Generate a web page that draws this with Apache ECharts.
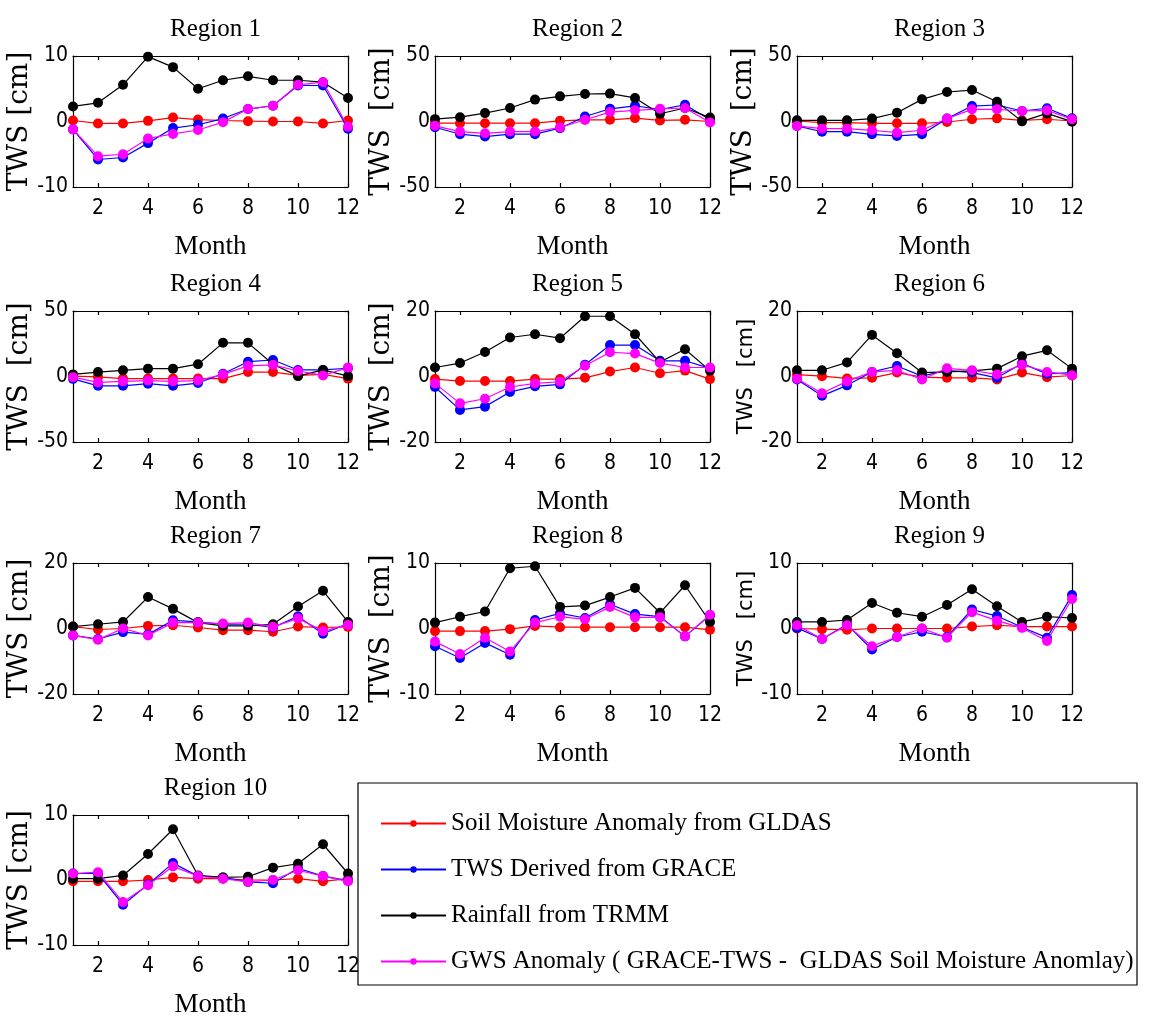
<!DOCTYPE html>
<html>
<head>
<meta charset="utf-8">
<title>Monthly TWS, soil moisture, rainfall and GWS by region</title>
<script src="https://cdn.jsdelivr.net/npm/echarts@6/dist/echarts.min.js"></script>
<style>
  html, body { margin: 0; padding: 0; background: #ffffff; }
  #chart { width: 1150px; height: 1019px; }
</style>
</head>
<body>
<div id="chart"></div>
<script>
// ---- data ---------------------------------------------------------------
const months = [1, 2, 3, 4, 5, 6, 7, 8, 9, 10, 11, 12];
const monthTicks = [2, 4, 6, 8, 10, 12];

const regionNames = ['Region 1', 'Region 2', 'Region 3', 'Region 4', 'Region 5',
                     'Region 6', 'Region 7', 'Region 8', 'Region 9', 'Region 10'];

// symmetric y-limits (cm) for each region panel
const yLimits = [10, 50, 50, 50, 20, 20, 20, 10, 10, 10];

const yAxisNames = ['TWS [cm]', 'TWS  [cm]', 'TWS  [cm]', 'TWS  [cm]', 'TWS  [cm]',
                    'TWS   [cm]', 'TWS [cm]', 'TWS  [cm]', 'TWS   [cm]', 'TWS [cm]'];
const sansNamePanels = [5, 8];

const seriesNames = [
  'Soil Moisture Anomaly from GLDAS',
  'TWS Derived from GRACE',
  'Rainfall from TRMM',
  'GWS Anomaly ( GRACE-TWS -  GLDAS Soil Moisture Anomlay)'
];
const seriesColors = ['#ff0000', '#0000ff', '#000000', '#ff00ff'];

// one row per region, one value per month
const soilMoisture = [
  [0.15, -0.3, -0.3, 0.1, 0.6, 0.3, 0.15, 0.05, 0, 0, -0.3, 0.15],
  [-1.3, -1.3, -1.3, -1.3, -1.3, 0.5, 1.3, 1.3, 2.6, 0.8, 1.3, 0],
  [0.4, -0.9, -0.9, -1.4, -1.4, -1.4, -0.4, 1.7, 2.4, 0.9, 1.7, 0.4],
  [0.3, -0.3, -1.6, -1.6, -1.6, -1.6, -1.6, 3.4, 3.4, 0.8, 1.6, -1.6],
  [-0.8, -1.4, -1.4, -1.4, -0.8, -0.8, -0.4, 1.5, 2.75, 1.0, 1.8, -0.8],
  [0.6, 0.1, -0.6, -0.4, 1.2, -0.2, -0.4, -0.4, -0.9, 1.2, -0.2, 0.3],
  [0.6, -0.3, 0, 0.8, 1.0, 0.3, -0.5, -0.5, -1.0, 0.6, 0.3, 0.5],
  [-0.4, -0.4, -0.4, -0.1, 0.4, 0.2, 0.2, 0.2, 0.2, 0.2, 0.2, -0.2],
  [0, -0.1, -0.2, 0, 0, 0, 0, 0.3, 0.5, 0.3, 0.3, 0.3],
  [-0.2, -0.2, -0.2, 0, 0.4, 0.2, 0.2, 0, 0, 0.2, -0.2, 0.2]
];

const graceTws = [
  [-1.2, -5.8, -5.5, -3.3, -1.0, -0.5, 0.45, 1.9, 2.4, 5.5, 5.5, -1.1],
  [-4.4, -9.7, -11.5, -9.7, -9.7, -5.1, 3.8, 9.7, 12, 9, 12.8, 1.3],
  [-3.4, -7.8, -7.8, -9.8, -11, -9.8, 2.2, 11.8, 12.6, 8, 10.1, 2.4],
  [-1.8, -7.1, -7.1, -5.5, -7.1, -5, 2.1, 11.3, 12.6, 5, 5, 6.3],
  [-3.2, -10.2, -9.2, -4.7, -3.0, -2.4, 3.6, 9.6, 9.6, 4.8, 4.8, 2.5],
  [-0.9, -5.9, -2.7, 1.4, 3.2, 0.1, 1.9, 1.2, -0.4, 4.0, 0.8, 1.2],
  [-2.1, -3.2, -1.1, -1.8, 2.5, 2.0, 1.3, 1.3, 0.3, 3.7, -1.6, 1.5],
  [-2.7, -4.5, -2.2, -4.0, 1.3, 2.3, 1.6, 3.7, 2.2, 1.8, -1.2, 2.0],
  [0.1, -1.6, 0.6, -3.2, -1.3, -0.5, -1.3, 2.9, 1.9, 0.2, -1.4, 5.1],
  [1.0, 1.0, -3.8, -0.7, 2.6, 0.6, 0.4, -0.3, -0.5, 1.8, 0.6, -0.1]
];

const trmmRain = [
  [2.3, 2.85, 5.6, 9.9, 8.3, 5.0, 6.3, 6.9, 6.3, 6.3, 6.0, 3.6],
  [1.8, 3.3, 6.4, 10.3, 16.7, 19.2, 21, 21.3, 18, 5.9, 10.3, 3],
  [0.9, 0.9, 0.9, 2.2, 6.7, 16.9, 22.5, 24, 15.1, 0.1, 6.2, -0.1],
  [1.6, 3.4, 4.7, 6, 6, 9.4, 25.7, 25.7, 9.4, 0.3, 5, 0.3],
  [2.75, 4.1, 7.5, 11.9, 12.9, 11.7, 18.4, 18.4, 12.9, 4.4, 8.3, 1.8],
  [1.9, 1.9, 4.3, 12.7, 7.1, 1.2, 1.4, 1.7, 2.4, 6.2, 8.0, 2.4],
  [0.6, 1.3, 2.0, 9.6, 6.0, 1.8, 0.8, 0.8, 1.3, 6.7, 11.5, 2.0],
  [0.9, 1.8, 2.6, 9.2, 9.5, 3.3, 3.5, 4.8, 6.2, 2.4, 6.6, 1.0],
  [1.0, 1.0, 1.3, 3.9, 2.4, 1.8, 3.6, 6.0, 3.4, 1.0, 1.8, 1.6],
  [0.2, 0.2, 0.7, 4.0, 7.8, 0.7, 0.4, 0.5, 1.9, 2.5, 5.5, 1.0]
];

const gwsAnomaly = [
  [-1.2, -5.3, -5.0, -2.6, -1.9, -1.3, -0.1, 1.9, 2.4, 5.6, 6.0, -0.8],
  [-3.3, -7.7, -9, -7.7, -7.7, -4.6, 1.3, 7.2, 8.5, 9.7, 10.3, -0.8],
  [-3.4, -5.5, -5.5, -6.7, -8.5, -6.7, 2.2, 9.3, 9.3, 8, 8.5, 1.7],
  [-0.5, -4.5, -3.7, -3.1, -3.7, -3.1, 1.6, 8.1, 8.9, 4.2, 0.8, 6.8],
  [-2.1, -8.2, -6.8, -3.2, -2.1, -1.6, 3.3, 7.4, 7.0, 4.1, 2.75, 2.75],
  [-0.7, -5.1, -1.5, 1.4, 1.9, -0.9, 2.5, 1.9, 0.6, 3.6, 1.4, 0.4],
  [-2.1, -3.4, 0, -2.1, 1.8, 1.8, 1.5, 1.8, 0.5, 3.1, -0.8, 1.1],
  [-2.0, -3.9, -1.4, -3.5, 0.9, 1.8, 1.4, 3.3, 1.7, 1.7, -1.2, 2.1],
  [0.5, -1.6, 0.5, -2.7, -1.3, 0, -1.4, 2.5, 1.2, 0.1, -1.9, 4.5],
  [1.0, 1.2, -3.4, -0.8, 2.1, 0.6, 0.2, -0.3, 0, 1.5, 0.6, -0.2]
];

const seriesValues = [soilMoisture, graceTws, trmmRain, gwsAnomaly];

// ---- layout -------------------------------------------------------------
const colLeft = [73, 435, 797];
const rowTop = [56, 311, 563, 815];
const plotW = 275;
const plotH = 131;

const serifFont = "'Liberation Serif', 'Times New Roman', serif";
const wideSerif = "'DejaVu Serif', 'Liberation Serif', serif";
const narrowSans = "'Liberation Sans Narrow', 'DejaVu Sans Condensed', 'Liberation Sans', sans-serif";
const plainSans = "'DejaVu Sans', 'Liberation Sans', sans-serif";

const grids = [], xAxes = [], yAxes = [], titles = [], series = [];

regionNames.forEach((name, i) => {
  const left = colLeft[i % 3];
  const top = rowTop[Math.floor(i / 3)];
  grids.push({ left: left, top: top, width: plotW, height: plotH, containLabel: false });

  titles.push({
    text: name,
    left: left + plotW / 2,
    top: top - 44,
    textAlign: 'center',
    textStyle: { fontFamily: serifFont, fontSize: 25, fontWeight: 'normal', color: '#000' }
  });

  const axisLine = { show: true, onZero: false, lineStyle: { color: '#000', width: 1.2 } };
  const tick = { show: true, inside: true, length: 4, lineStyle: { color: '#000', width: 1.2 } };

  // bottom and top month axes
  xAxes.push({
    type: 'value', gridIndex: i, position: 'bottom', min: 1, max: 12,
    axisLine: axisLine,
    axisTick: Object.assign({ customValues: monthTicks }, tick),
    axisLabel: { customValues: monthTicks, margin: 11, fontFamily: narrowSans, fontSize: 21, color: '#000' },
    splitLine: { show: false },
    name: 'Month', nameLocation: 'middle', nameGap: 46,
    nameTextStyle: { fontFamily: serifFont, fontSize: 27, color: '#000' }
  });
  xAxes.push({
    type: 'value', gridIndex: i, position: 'top', min: 1, max: 12,
    axisLine: axisLine,
    axisTick: Object.assign({ customValues: monthTicks }, tick),
    axisLabel: { show: false },
    splitLine: { show: false }
  });

  const lim = yLimits[i];
  const sans = sansNamePanels.indexOf(i) >= 0;
  yAxes.push({
    type: 'value', gridIndex: i, position: 'left', min: -lim, max: lim, interval: lim,
    axisLine: axisLine, axisTick: tick,
    axisLabel: { margin: 5, fontFamily: narrowSans, fontSize: 21, color: '#000' },
    splitLine: { show: false },
    name: yAxisNames[i], nameLocation: 'middle', nameGap: sans ? 38 : 35,
    nameTextStyle: sans
      ? { fontFamily: plainSans, fontSize: 21, color: '#000' }
      : { fontFamily: wideSerif, fontSize: 28, color: '#000' }
  });
  yAxes.push({
    type: 'value', gridIndex: i, position: 'right', min: -lim, max: lim, interval: lim,
    axisLine: axisLine, axisTick: tick,
    axisLabel: { show: false },
    splitLine: { show: false }
  });

  seriesValues.forEach((rows, s) => {
    series.push({
      type: 'line',
      name: seriesNames[s],
      xAxisIndex: 2 * i,
      yAxisIndex: 2 * i,
      data: months.map((m, k) => [m, rows[i][k]]),
      symbol: 'circle',
      symbolSize: 10,
      clip: false,
      z: 2 + s,
      lineStyle: { color: seriesColors[s], width: 1.2 },
      itemStyle: { color: seriesColors[s] }
    });
  });
});

const chart = echarts.init(document.getElementById('chart'), null, { renderer: 'canvas' });
chart.setOption({
  backgroundColor: '#ffffff',
  animation: false,
  title: titles,
  grid: grids,
  xAxis: xAxes,
  yAxis: yAxes,
  series: series,
  legend: {
    data: seriesNames,
    orient: 'vertical',
    left: 375,
    top: 806,
    itemWidth: 65,
    itemHeight: 8,
    itemGap: 21,
    selectedMode: false,
    textStyle: { fontFamily: serifFont, fontSize: 25, color: '#000' }
  },
  graphic: [{
    type: 'rect',
    shape: { x: 358, y: 783, width: 779, height: 202 },
    style: { fill: 'rgba(0,0,0,0)', stroke: '#000', lineWidth: 1.2 },
    silent: true
  }]
});
</script>
</body>
</html>
